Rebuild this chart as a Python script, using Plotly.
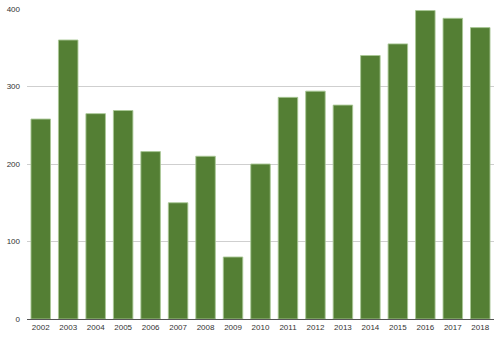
import plotly.graph_objects as go

years = ["2002", "2003", "2004", "2005", "2006", "2007", "2008", "2009", "2010",
         "2011", "2012", "2013", "2014", "2015", "2016", "2017", "2018"]
values = [258, 360, 265, 269, 216, 150, 210, 80, 200,
          286, 294, 276, 340, 355, 398, 388, 376]
y_ticks = [0, 100, 200, 300, 400]

fig = go.Figure(go.Bar(
    x=years, y=values,
    marker=dict(color="rgb(84,127,52)", line=dict(color="rgba(170,200,150,0.9)", width=1)),
))

fig.update_layout(
    width=500, height=338,
    margin=dict(l=27, r=6, t=9, b=19),
    plot_bgcolor="white", paper_bgcolor="white",
    bargap=0.29,
    showlegend=False,
    font=dict(family="Liberation Sans, Arial, sans-serif", size=8, color="#333333"),
)
fig.update_xaxes(
    type="category", showgrid=False, showline=True, linecolor="#555555", linewidth=1,
    ticks="", tickfont=dict(size=8, color="#333333"),
)
fig.update_yaxes(
    range=[0, 400], tickvals=y_ticks, showgrid=True, gridcolor="#cfcfcf", gridwidth=1,
    zeroline=False, showline=False, ticks="", tickfont=dict(size=8, color="#333333"),
    ticklabelstandoff=6,
)

fig.write_html("out.html")
